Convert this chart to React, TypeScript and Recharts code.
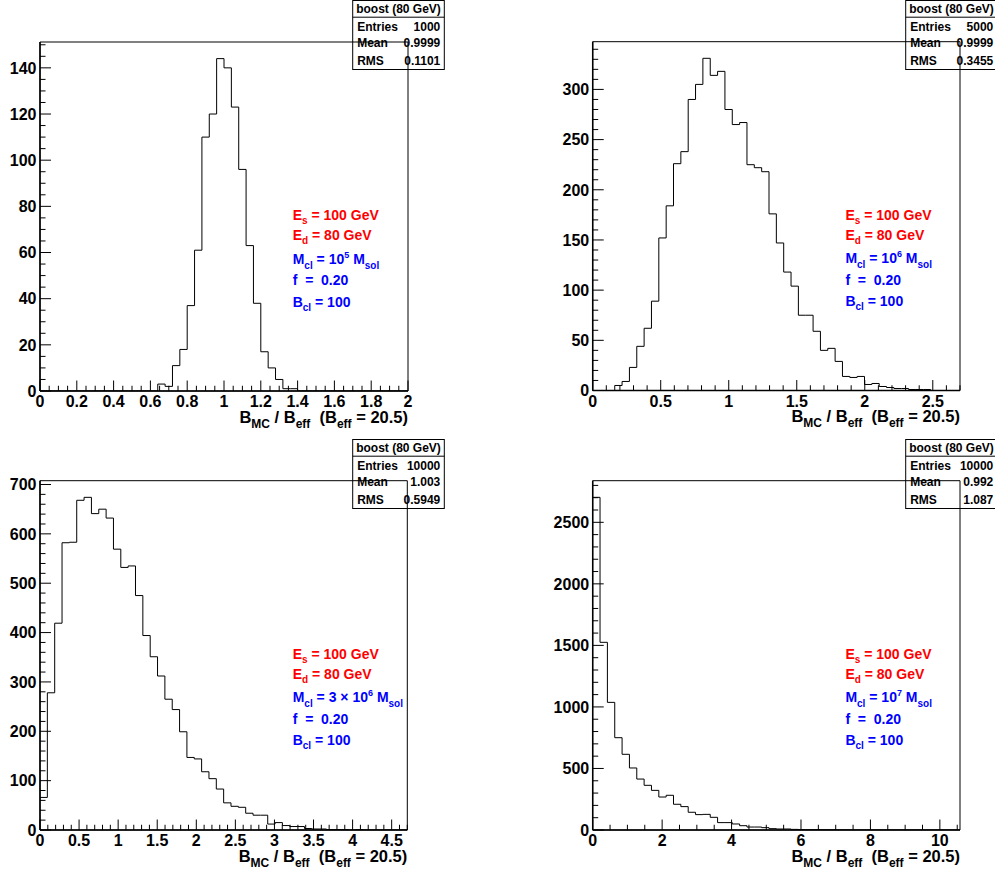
import React from 'react';
import { LineChart, Line, XAxis, YAxis, ReferenceArea, Customized } from 'recharts';

const FONT = '"Liberation Sans", Arial, Helvetica, sans-serif';

// ---------- data (bin contents, 50 bins each) ----------
const counts1 = [0,0,0,0,0,0,0,0,0,0,0,0,0,0,0,0,3,2,11,18,37,61,110,120,144,140,123,96,63,38,17,10,5,1,1,0,0,0,0,0,0,0,0,0,0,0,0,0,0,0];
const counts2 = [0,0,0,5,9,23,44,62,89,152,184,226,238,290,305,331,314,318,280,265,267,225,222,218,176,147,118,104,75,75,59,40,42,29,14,13,14,6,7,4,3,2,2,1,1,1,0,0,0,0];
const counts3 = [66,278,419,582,583,668,674,641,650,632,569,532,535,475,394,351,312,265,244,199,147,144,118,104,83,55,48,46,34,30,30,12,15,9,7,7,3,2,2,1,1,1,0,1,0,0,0,0,0,0];
const counts4 = [2703,1525,1037,750,615,504,414,363,322,268,282,209,190,144,125,127,103,60,60,49,35,24,24,19,11,8,8,5,4,3,3,2,2,1,1,0,0,0,0,0,0,0,0,0,0,0,0,0,0,0];

const xRanges = [2, 2.7, 4.7, 10.58];

// tick labels
const xMajors1 = [0, 0.2, 0.4, 0.6, 0.8, 1, 1.2, 1.4, 1.6, 1.8, 2];
const xMajors2 = [0, 0.5, 1, 1.5, 2, 2.5];
const xMajors3 = [0, 0.5, 1, 1.5, 2, 2.5, 3, 3.5, 4, 4.5];
const xMajors4 = [0, 2, 4, 6, 8, 10];
const yMajors1 = [0, 20, 40, 60, 80, 100, 120, 140];
const yMajors2 = [0, 50, 100, 150, 200, 250, 300];
const yMajors3 = [0, 100, 200, 300, 400, 500, 600, 700];
const yMajors4 = [0, 500, 1000, 1500, 2000, 2500];
const xMinorSteps = [0.05, 0.1, 0.1, 0.5];
const yMinorSteps = [5, 10, 20, 100];

// stats boxes
const statTitle = 'boost (80 GeV)';
const statEntries = ['1000', '5000', '10000', '10000'];
const statMean = ['0.9999', '0.9999', '1.003', '0.992'];
const statRMS = ['0.1101', '0.3455', '0.5949', '1.087'];

// cluster masses
const massPrefix = ['10', '10', '3 \u00d7 10', '10'];
const massExp = ['5', '6', '6', '7'];

// ---------- helpers ----------
function histPoints(counts: number[], xmax: number) {
  const w = xmax / counts.length;
  const pts = counts.map((c, i) => ({ x: i * w, y: c }));
  pts.push({ x: xmax, y: counts[counts.length - 1] });
  return pts;
}

function allTicks(majors: number[], step: number, max: number) {
  const t: number[] = [];
  for (let i = 0; i * step <= max + 1e-9; i++) t.push(+(i * step).toFixed(6));
  majors.forEach((m) => {
    if (!t.some((v) => Math.abs(v - m) < 1e-6)) t.push(m);
  });
  return t.sort((a, b) => a - b);
}

const isMajor = (v: number, majors: number[]) => majors.some((m) => Math.abs(m - v) < 1e-6);

const txt = { fontFamily: FONT, fontWeight: 'bold' as const };

const XTick = (props: any) => {
  const { x, y, payload, majors, len } = props;
  const major = isMajor(payload.value, majors);
  return (
    <g>
      <line x1={x} x2={x} y1={y} y2={y - (major ? len : len / 2)} stroke="#000" strokeWidth={1} />
      {major && (
        <text x={x} y={y + 16.3} textAnchor="middle" fontSize={16} fill="#000" {...txt}>
          {String(payload.value)}
        </text>
      )}
    </g>
  );
};

const YTick = (props: any) => {
  const { x, y, payload, majors, len } = props;
  const major = isMajor(payload.value, majors);
  return (
    <g>
      <line x1={x} x2={x + (major ? len : len / 2)} y1={y} y2={y} stroke="#000" strokeWidth={1} />
      {major && (
        <text x={x - 3.5} y={y + 5.8} textAnchor="end" fontSize={16} fill="#000" {...txt}>
          {String(payload.value)}
        </text>
      )}
    </g>
  );
};

const Overlay = ({ frame, stat, idx }: any) => {
  const ax = frame.l + 252.7;
  const ay = frame.t;
  const sw = 91.6;
  const sx = stat.x;
  const sy = stat.y;
  return (
    <g>
      {/* axis title */}
      <text x={frame.r} y={frame.b + 31.7} textAnchor="end" fontSize={16.5} fill="#000" {...txt}>
        B<tspan fontSize={12} dy={5}>MC</tspan>
        <tspan dy={-5}> / B</tspan>
        <tspan fontSize={12} dy={5}>eff</tspan>
        <tspan dy={-5} xmlSpace="preserve">{'  (B'}</tspan>
        <tspan fontSize={12} dy={5}>eff</tspan>
        <tspan dy={-5}> = 20.5)</tspan>
      </text>
      {/* annotations */}
      <text x={ax} y={ay + 178} fontSize={14} fill="#ff0000" {...txt}>
        E<tspan fontSize={10} dy={4}>s</tspan>
        <tspan dy={-4}> = 100 GeV</tspan>
      </text>
      <text x={ax} y={ay + 198} fontSize={14} fill="#ff0000" {...txt}>
        E<tspan fontSize={10} dy={4}>d</tspan>
        <tspan dy={-4}> = 80 GeV</tspan>
      </text>
      <text x={ax} y={ay + 221.5} fontSize={14} fill="#0000ff" {...txt}>
        M<tspan fontSize={10} dy={5}>cl</tspan>
        <tspan dy={-5}>{' = ' + massPrefix[idx]}</tspan>
        <tspan fontSize={9} dy={-6}>{massExp[idx]}</tspan>
        <tspan dy={6}> M</tspan>
        <tspan fontSize={10} dy={5}>sol</tspan>
      </text>
      <text x={ax} y={ay + 243} fontSize={14} fill="#0000ff" xmlSpace="preserve" {...txt}>
        {'f  =  0.20'}
      </text>
      <text x={ax} y={ay + 264.5} fontSize={14} fill="#0000ff" {...txt}>
        B<tspan fontSize={10} dy={4}>cl</tspan>
        <tspan dy={-4}> = 100</tspan>
      </text>
      {/* stats box */}
      <rect x={sx} y={sy} width={sw} height={69} fill="#fff" stroke="#000" strokeWidth={1} />
      <line x1={sx} x2={sx + sw} y1={sy + 16.7} y2={sy + 16.7} stroke="#000" strokeWidth={1} />
      <text x={sx + sw / 2} y={sy + 12.7} textAnchor="middle" fontSize={12} fill="#000" {...txt}>
        {statTitle}
      </text>
      <text x={sx + 4.5} y={sy + 30} fontSize={12} fill="#000" {...txt}>Entries</text>
      <text x={sx + sw - 4} y={sy + 30} textAnchor="end" fontSize={12} fill="#000" {...txt}>{statEntries[idx]}</text>
      <text x={sx + 4.5} y={sy + 46.7} fontSize={12} fill="#000" {...txt}>Mean</text>
      <text x={sx + sw - 4} y={sy + 46.7} textAnchor="end" fontSize={12} fill="#000" {...txt}>{statMean[idx]}</text>
      <text x={sx + 4.5} y={sy + 64} fontSize={12} fill="#000" {...txt}>RMS</text>
      <text x={sx + sw - 4} y={sy + 64} textAnchor="end" fontSize={12} fill="#000" {...txt}>{statRMS[idx]}</text>
    </g>
  );
};

const layouts = [
  { left: 0, top: 0, W: 497, H: 436, frame: { l: 40, r: 408, t: 42, b: 391 }, stat: { x: 352.7, y: 0.5 } },
  { left: 497, top: 0, W: 498, H: 436, frame: { l: 95.7, r: 463, t: 41.7, b: 390.5 }, stat: { x: 408.7, y: 0.5 } },
  { left: 0, top: 436, W: 497, H: 437, frame: { l: 40, r: 407.3, t: 44.7, b: 394 }, stat: { x: 352.7, y: 3.5 } },
  { left: 497, top: 436, W: 498, H: 437, frame: { l: 95.7, r: 463, t: 44.7, b: 394 }, stat: { x: 408.7, y: 3.5 } },
];

const allCounts = [counts1, counts2, counts3, counts4];
const allXMajors = [xMajors1, xMajors2, xMajors3, xMajors4];
const allYMajors = [yMajors1, yMajors2, yMajors3, yMajors4];

const XH = 30;

const Panel = ({ idx }: { idx: number }) => {
  const lay = layouts[idx];
  const counts = allCounts[idx];
  const xmax = xRanges[idx];
  const ymax = Math.max(...counts) * 1.05;
  const data = histPoints(counts, xmax);
  const xMaj = allXMajors[idx];
  const yMaj = allYMajors[idx];
  const xTicks = allTicks(xMaj, xMinorSteps[idx], xmax);
  const yTicks = allTicks(yMaj, yMinorSteps[idx], ymax);
  const f = lay.frame;
  const frameH = f.b - f.t;
  const frameW = f.r - f.l;
  return (
    <div style={{ position: 'absolute', left: lay.left, top: lay.top, width: lay.W, height: lay.H }}>
      <LineChart
        width={lay.W}
        height={lay.H}
        data={data}
        margin={{ top: f.t, right: lay.W - f.r, left: 0, bottom: lay.H - f.b - XH }}
      >
        <XAxis
          dataKey="x"
          type="number"
          domain={[0, xmax]}
          ticks={xTicks}
          interval={0}
          height={XH}
          tickSize={0}
          tickMargin={0}
          allowDataOverflow
          axisLine={{ stroke: '#000', strokeWidth: 1.5 }}
          tickLine={false}
          tick={(p: any) => <XTick {...p} majors={xMaj} len={frameH * 0.03} />}
        />
        <YAxis
          type="number"
          domain={[0, ymax]}
          ticks={yTicks}
          interval={0}
          width={f.l}
          tickSize={0}
          tickMargin={0}
          allowDataOverflow
          axisLine={{ stroke: '#000', strokeWidth: 1.5 }}
          tickLine={false}
          tick={(p: any) => <YTick {...p} majors={yMaj} len={frameW * 0.03} />}
        />
        <ReferenceArea x1={0} x2={xmax} y1={0} y2={ymax} fill="none" stroke="#000" strokeWidth={1} ifOverflow="visible" />
        <Line
          type="stepAfter"
          dataKey="y"
          stroke="#000"
          strokeWidth={1}
          dot={false}
          activeDot={false}
          isAnimationActive={false}
        />
        <Customized component={() => <Overlay frame={f} stat={lay.stat} idx={idx} />} />
      </LineChart>
    </div>
  );
};

export default function App() {
  return (
    <div
      style={{
        position: 'absolute',
        left: 0,
        top: 0,
        width: 995,
        height: 873,
        background: '#fff',
        overflow: 'hidden',
      }}
    >
      {[0, 1, 2, 3].map((i) => (
        <Panel key={i} idx={i} />
      ))}
    </div>
  );
}
